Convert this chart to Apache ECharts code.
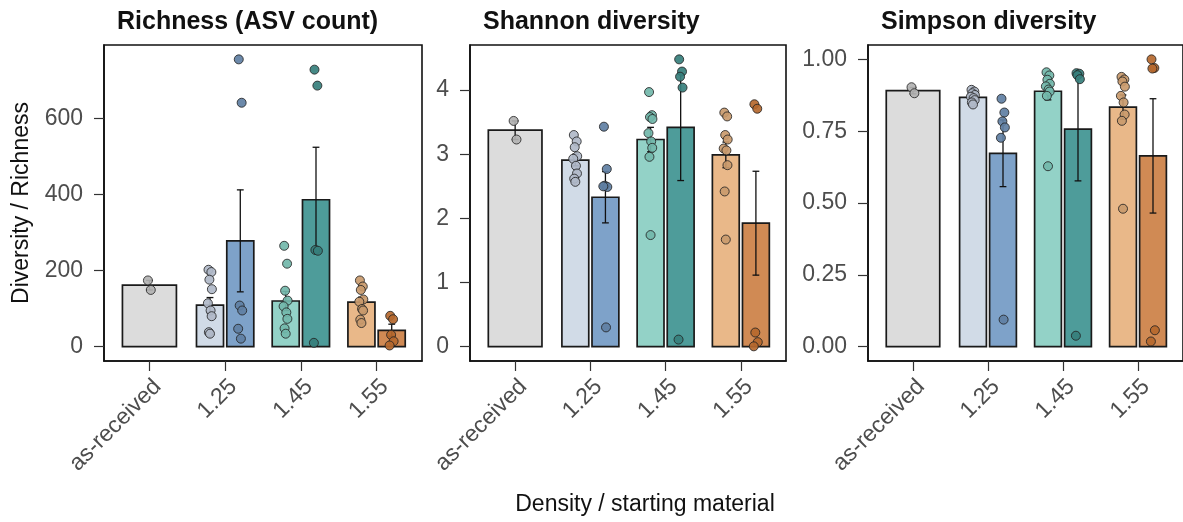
<!DOCTYPE html>
<html><head><meta charset="utf-8">
<script src="https://cdn.jsdelivr.net/npm/echarts@6/dist/echarts.min.js"></script>
<style>html,body{margin:0;padding:0;background:#fff}#c{width:1183px;height:522px}</style>
</head><body><div id="c"></div>
<script>
// ---------------- data ----------------
const categories = ['as-received', '1.25', '1.45', '1.55'];
const groupNames = ['as-received', '1.25 (a)', '1.25 (b)', '1.45 (a)', '1.45 (b)', '1.55 (a)', '1.55 (b)'];
const groupCategory = ['as-received', '1.25', '1.25', '1.45', '1.45', '1.55', '1.55'];
const groupBarFill = ['#dcdcdc', '#d1dbe7', '#7ea2c9', '#93d2c7', '#4e9c9a', '#e9b889', '#d08a54'];
const groupPointFill = ['#b2b2b2', '#b0b9c8', '#5f7fa3', '#72b7aa', '#367f7c', '#c99a6c', '#b5682e'];

const panelTitles = ['Richness (ASV count)', 'Shannon diversity', 'Simpson diversity'];

const richnessMean = [161.5, 109, 278, 120, 386, 117, 43];
const richnessSE   = [12.5, 20, 134, 25, 138, 13, 16];
const richnessPts  = [
  [174, 149],
  [202, 196, 176, 151, 114, 95, 80, 38, 34],
  [755, 641, 108, 95, 47, 21],
  [265, 218, 147, 121, 106, 90, 73, 48, 34],
  [728, 686, 254, 252, 10],
  [174, 158, 149, 124, 118, 99, 95, 71, 62],
  [81, 72, 31, 14, 3]
];

const shannonMean = [3.375, 2.91, 2.33, 3.23, 3.42, 2.99, 1.925];
const shannonSE   = [0.145, 0.09, 0.40, 0.19, 0.83, 0.20, 0.81];
const shannonPts  = [
  [3.52, 3.23],
  [3.30, 3.20, 3.11, 2.97, 2.93, 2.82, 2.70, 2.62, 2.57],
  [3.43, 2.77, 2.51, 2.49, 2.50, 0.30],
  [3.97, 3.61, 3.58, 3.55, 3.33, 3.20, 3.10, 2.96, 1.74],
  [4.48, 4.29, 4.21, 4.04, 0.11],
  [3.65, 3.59, 3.30, 3.23, 3.09, 3.06, 2.83, 2.42, 1.67],
  [3.78, 3.71, 0.22, 0.07, 0.005]
];

const simpsonMean = [0.891, 0.868, 0.673, 0.889, 0.757, 0.834, 0.664];
const simpsonSE   = [0.011, 0.007, 0.116, 0.030, 0.180, 0.042, 0.199];
const simpsonPts  = [
  [0.903, 0.882],
  [0.894, 0.888, 0.882, 0.876, 0.870, 0.865, 0.858, 0.850, 0.843],
  [0.863, 0.815, 0.784, 0.763, 0.727, 0.094],
  [0.955, 0.944, 0.929, 0.915, 0.906, 0.895, 0.888, 0.873, 0.628],
  [0.952, 0.950, 0.945, 0.931, 0.038],
  [0.939, 0.930, 0.923, 0.905, 0.873, 0.850, 0.808, 0.786, 0.480],
  [1.000, 0.970, 0.968, 0.057, 0.018]
];

const yTicksRichness = [0, 200, 400, 600];
const yTicksShannon  = [0, 1, 2, 3, 4];
const yTicksSimpson  = [0, 0.25, 0.5, 0.75, 1];

const xAxisTitle = 'Density / starting material';
const yAxisTitle = 'Diversity / Richness';

// ---------------- layout / style ----------------
const FONT = '"Liberation Sans", Arial, Helvetica, sans-serif';
const gridLeft = [104, 470, 868];
const gridWidth = [318, 316, 318];
const gridTop = 45, gridHeight = 316;
const jitter = [-0.02, 0.018, -0.008, 0.025, -0.028, 0.008, 0.022, -0.015, 0.0];

const panels = [
  {mean: richnessMean, se: richnessSE, pts: richnessPts, ticks: yTicksRichness, fmt: v => String(v)},
  {mean: shannonMean, se: shannonSE, pts: shannonPts, ticks: yTicksShannon, fmt: v => String(v)},
  {mean: simpsonMean, se: simpsonSE, pts: simpsonPts, ticks: yTicksSimpson, fmt: v => v.toFixed(2)}
];

// dodge positions from the group structure
const catCount = {};
groupCategory.forEach(c => catCount[c] = (catCount[c] || 0) + 1);
const catSeen = {};
const groupX = [], groupW = [];
groupCategory.forEach(c => {
  const base = categories.indexOf(c) + 1;
  const n = catCount[c];
  const k = catSeen[c] = (catSeen[c] || 0) + 1;
  if (n === 1) { groupX.push(base); groupW.push(0.713); }
  else { groupX.push(base + (k === 1 ? -0.2 : 0.2)); groupW.push(0.357); }
});

function barRender(params, api) {
  const cx = api.value(0), m = api.value(1), w = api.value(2);
  const p0 = api.coord([cx - w / 2, 0]);
  const p1 = api.coord([cx + w / 2, m]);
  return {type: 'rect', shape: {x: p0[0], y: p1[1], width: p1[0] - p0[0], height: p0[1] - p1[1]},
    style: {fill: api.visual('color'), stroke: '#1a1a1a', lineWidth: 1.7}};
}
function errRender(params, api) {
  const cx = api.value(0), lo = api.value(1), hi = api.value(2);
  const cap = 0.045;
  const a = api.coord([cx, lo]), b = api.coord([cx, hi]);
  const l = api.coord([cx - cap, hi])[0], r = api.coord([cx + cap, hi])[0];
  const st = {stroke: '#111', lineWidth: 1.3};
  return {type: 'group', children: [
    {type: 'line', shape: {x1: a[0], y1: a[1], x2: b[0], y2: b[1]}, style: st},
    {type: 'line', shape: {x1: l, y1: b[1], x2: r, y2: b[1]}, style: st},
    {type: 'line', shape: {x1: l, y1: a[1], x2: r, y2: a[1]}, style: st}
  ]};
}

const grids = [], xAxes = [], yAxes = [], series = [], titles = [];
panels.forEach((p, i) => {
  // ggplot-style 5% expansion of the data range
  let lo = 0, hi = 0;
  p.pts.forEach(arr => arr.forEach(v => { lo = Math.min(lo, v); hi = Math.max(hi, v); }));
  p.mean.forEach((m, g) => { hi = Math.max(hi, m + p.se[g]); lo = Math.min(lo, m - p.se[g]); });
  lo = Math.min(lo, 0);
  const pad = 0.05 * (hi - lo);

  grids.push({left: gridLeft[i], top: gridTop, width: gridWidth[i], height: gridHeight,
    show: true, borderColor: '#111', borderWidth: 1.6, backgroundColor: 'transparent'});
  titles.push({text: panelTitles[i], left: gridLeft[i] + 13, top: 10, padding: 0,
    textStyle: {fontSize: 25, fontWeight: 'bold', color: '#111', fontFamily: FONT}});
  xAxes.push({type: 'value', gridIndex: i, min: 0.4, max: 4.6,
    splitLine: {show: false},
    axisLine: {show: true, onZero: false, lineStyle: {color: '#111', width: 1.6}},
    axisTick: {show: true, customValues: [1, 2, 3, 4], length: 10, lineStyle: {color: '#333', width: 1.2}},
    axisLabel: {customValues: [1, 2, 3, 4], formatter: v => categories[Math.round(v) - 1],
      rotate: 45, fontSize: 23, color: '#4d4d4d', fontFamily: FONT, margin: 14,
      align: 'right', verticalAlign: 'top'}
  });
  yAxes.push({type: 'value', gridIndex: i, min: lo - pad, max: hi + pad,
    splitLine: {show: false},
    axisLine: {show: true, onZero: false, lineStyle: {color: '#111', width: 1.6}},
    axisTick: {show: true, customValues: p.ticks, length: 10, lineStyle: {color: '#333', width: 1.2}},
    axisLabel: {customValues: p.ticks, formatter: p.fmt, fontSize: 23, color: '#4d4d4d',
      fontFamily: FONT, margin: 21}
  });
  series.push({type: 'custom', name: panelTitles[i] + ' bars', xAxisIndex: i, yAxisIndex: i,
    renderItem: barRender, z: 2,
    data: p.mean.map((m, g) => ({name: groupNames[g], value: [groupX[g], m, groupW[g]],
      itemStyle: {color: groupBarFill[g]}}))});
  series.push({type: 'custom', name: panelTitles[i] + ' error', xAxisIndex: i, yAxisIndex: i,
    renderItem: errRender, z: 3,
    data: p.mean.map((m, g) => ({name: groupNames[g], value: [groupX[g], m - p.se[g], m + p.se[g]]}))});
  const pts = [];
  p.pts.forEach((arr, g) => arr.forEach((v, k) => pts.push({
    name: groupNames[g], value: [groupX[g] + jitter[k % jitter.length], v],
    itemStyle: {color: groupPointFill[g]}})));
  series.push({type: 'scatter', name: panelTitles[i] + ' points', xAxisIndex: i, yAxisIndex: i,
    symbolSize: 9, z: 4,
    itemStyle: {borderColor: '#222', borderWidth: 0.9, opacity: 0.92},
    data: pts});
});

const chart = echarts.init(document.getElementById('c'), null, {renderer: 'canvas'});
chart.setOption({
  animation: false,
  backgroundColor: '#fff',
  textStyle: {fontFamily: FONT},
  title: titles,
  grid: grids, xAxis: xAxes, yAxis: yAxes, series: series,
  graphic: [
    {type: 'text', x: 645, y: 505,
      style: {text: xAxisTitle, fontSize: 23, fill: '#111', fontFamily: FONT,
        textAlign: 'center', textVerticalAlign: 'middle'}},
    {type: 'text', x: 22, y: 203, rotation: Math.PI / 2,
      style: {text: yAxisTitle, fontSize: 23, fill: '#111', fontFamily: FONT,
        textAlign: 'center', textVerticalAlign: 'middle'}}
  ]
});
</script></body></html>
